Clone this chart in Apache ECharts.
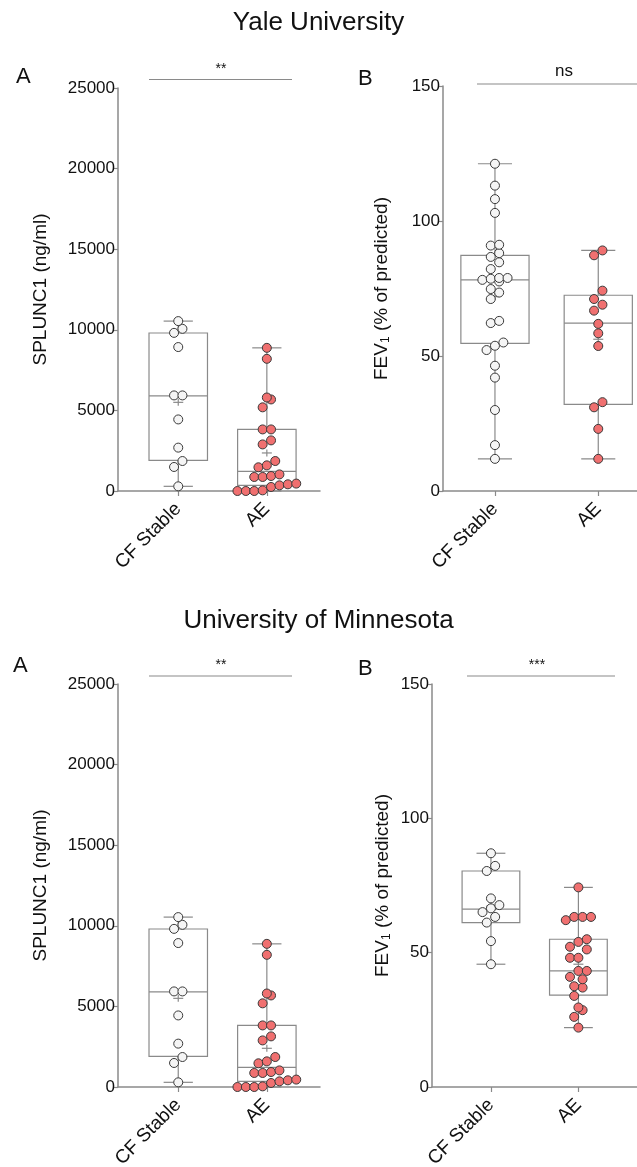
<!DOCTYPE html>
<html><head><meta charset="utf-8">
<script src="https://cdn.jsdelivr.net/npm/echarts@6/dist/echarts.min.js"></script>
<style>html,body{margin:0;padding:0;background:#fff}#c{width:637px;height:1167px}</style>
</head><body><div id="c"></div>
<script>
// ---- data ----
const categories = ['CF Stable', 'AE'];
const splunc1Ticks = [0, 5000, 10000, 15000, 20000, 25000];
const fev1Ticks = [0, 50, 100, 150];

const yaleSplunc1Stable = [10540, 10060, 9810, 8930, 5930, 5930, 4440, 2690, 1860, 1490, 290];
const yaleSplunc1AE = [8880, 8200, 5800, 5680, 5190, 3820, 3820, 3140, 2890, 1860, 1590, 1470, 1030, 930, 870, 870, 460, 415, 350, 250, 40, 0, 0, 0];
const yaleFev1Stable = [121.2, 113.1, 108.1, 103.0, 91.2, 90.9, 88.1, 86.7, 84.7, 82.2, 78.9, 78.9, 78.6, 78.2, 77.6, 74.8, 73.5, 71.1, 63.0, 62.2, 55.0, 53.8, 52.2, 46.4, 42.0, 30.0, 17.0, 11.9];
const yaleFev1AE = [89.1, 87.3, 74.2, 71.1, 69.0, 66.8, 61.9, 58.4, 53.7, 32.9, 31.0, 23.0, 11.9];
const umnSplunc1Stable = [10540, 10060, 9810, 8930, 5930, 5930, 4440, 2690, 1860, 1490, 290];
const umnSplunc1AE = [8880, 8200, 5800, 5680, 5190, 3820, 3820, 3140, 2890, 1860, 1590, 1470, 1030, 930, 870, 870, 460, 415, 350, 250, 40, 0, 0, 0];
const umnFev1Stable = [87.0, 82.3, 80.4, 70.2, 67.7, 66.5, 65.1, 63.3, 61.2, 54.3, 45.7];
const umnFev1AE = [74.3, 63.3, 63.3, 63.3, 62.1, 55.0, 54.0, 52.2, 51.2, 48.1, 48.1, 43.2, 43.2, 41.0, 40.1, 37.5, 37.0, 33.9, 29.6, 28.6, 26.1, 22.1];

// box statistics [min, Q1, median, Q3, max] and means
const yaleSplunc1Box = [[290, 1900, 5900, 9800, 10540], [0, 350, 1220, 3820, 8880]];
const yaleSplunc1Mean = [5500, 2360];
const yaleFev1Box = [[11.9, 54.7, 78.2, 87.3, 121.2], [11.9, 32.1, 62.2, 72.5, 89.1]];
const yaleFev1Mean = [72.0, 56.2];
const umnSplunc1Box = [[290, 1900, 5900, 9800, 10540], [0, 350, 1220, 3820, 8880]];
const umnSplunc1Mean = [5500, 2400];
const umnFev1Box = [[45.7, 61.2, 66.2, 80.4, 87.0], [22.1, 34.2, 43.2, 55.0, 74.3]];
const umnFev1Mean = [67.3, 45.7];

const significance = ['**', 'ns', '**', '***'];
const titles = ['Yale University', 'University of Minnesota'];
const panelLetters = ['A', 'B', 'A', 'B'];

// ---- layout / style ----
const FONT = '"Liberation Sans", Arial, Helvetica, sans-serif';
const AXIS_COLOR = '#8a8a8a';
const TEXT_COLOR = '#111';
const DOT = 9;   // dot symbol size
const D = 8.4;   // dot spacing in px

const panels = [
  {grid: {left: 118, top: 88, width: 202, height: 403}, xr: [0.32, 2.60], ticks: splunc1Ticks,
   name: 'SPLUNC1 (ng/ml)', nameGap: 68, groups: [yaleSplunc1Stable, yaleSplunc1AE], box: yaleSplunc1Box, mean: yaleSplunc1Mean},
  {grid: {left: 443, top: 86, width: 194, height: 405}, xr: [0.497, 2.375], ticks: fev1Ticks,
   name: 'FEV{sub|1} (% of predicted)', nameGap: 51, groups: [yaleFev1Stable, yaleFev1AE], box: yaleFev1Box, mean: yaleFev1Mean},
  {grid: {left: 118, top: 684, width: 202, height: 403}, xr: [0.32, 2.60], ticks: splunc1Ticks,
   name: 'SPLUNC1 (ng/ml)', nameGap: 68, groups: [umnSplunc1Stable, umnSplunc1AE], box: umnSplunc1Box, mean: umnSplunc1Mean},
  {grid: {left: 432, top: 684, width: 205, height: 403}, xr: [0.326, 2.67], ticks: fev1Ticks,
   name: 'FEV{sub|1} (% of predicted)', nameGap: 39, groups: [umnFev1Stable, umnFev1AE], box: umnFev1Box, mean: umnFev1Mean}
];

const chart = echarts.init(document.getElementById('c'), null, {renderer: 'canvas', width: 637, height: 1167});

const grids = [], xAxes = [], yAxes = [], series = [];
panels.forEach((p, i) => {
  grids.push(Object.assign({containLabel: false, outerBoundsMode: 'none'}, p.grid));
  xAxes.push({
    type: 'value', gridIndex: i, min: p.xr[0], max: p.xr[1],
    splitLine: {show: false},
    axisLine: {show: true, onZero: false, lineStyle: {color: AXIS_COLOR, width: 1.5}},
    axisTick: {show: true, customValues: [1, 2], length: 5, lineStyle: {color: AXIS_COLOR, width: 1.2}},
    axisLabel: {show: true, customValues: [1, 2], rotate: 45, margin: 15, fontSize: 19, color: TEXT_COLOR, fontFamily: FONT,
      formatter: v => categories[Math.round(v) - 1] || ''}
  });
  const tk = p.ticks;
  yAxes.push({
    type: 'value', gridIndex: i, min: tk[0], max: tk[tk.length - 1], interval: tk[1] - tk[0],
    name: p.name, nameLocation: 'middle', nameGap: p.nameGap,
    nameTextStyle: {fontSize: 19, color: TEXT_COLOR, fontFamily: FONT,
      rich: {sub: {fontSize: 12, color: TEXT_COLOR, fontFamily: FONT, verticalAlign: 'bottom', padding: [9, 0, 0, 0]}}},
    splitLine: {show: false},
    axisLine: {show: true, lineStyle: {color: AXIS_COLOR, width: 1.5}},
    axisTick: {show: true, length: 4, lineStyle: {color: AXIS_COLOR, width: 1.2}},
    axisLabel: {fontSize: 17, color: TEXT_COLOR, fontFamily: FONT, margin: 3, formatter: v => String(v)}
  });
  // box + whiskers
  series.push({
    type: 'custom', xAxisIndex: i, yAxisIndex: i, z: 2, silent: true,
    data: p.box.map((b, k) => [k + 1].concat(b).concat([p.mean[k]])),
    renderItem: (params, api) => {
      const c = api.value(0);
      const unit = api.size([1, 0])[0];
      const hw = unit * 0.33, cw = unit * 0.165;
      const P = k => api.coord([c, api.value(k)]);
      const pMin = P(1), pQ1 = P(2), pMed = P(3), pQ3 = P(4), pMax = P(5), pMean = P(6);
      const x = pMed[0];
      const st = {stroke: '#8a8a8a', lineWidth: 1.2, fill: null};
      const L = (x1, y1, x2, y2) => ({type: 'line', shape: {x1, y1, x2, y2}, style: st});
      return {type: 'group', children: [
        {type: 'rect', shape: {x: x - hw, y: pQ3[1], width: 2 * hw, height: pQ1[1] - pQ3[1]}, style: st},
        L(x, pQ3[1], x, pMax[1]), L(x, pQ1[1], x, pMin[1]),
        L(x - cw, pMax[1], x + cw, pMax[1]), L(x - cw, pMin[1], x + cw, pMin[1]),
        L(x - hw, pMed[1], x + hw, pMed[1]),
        L(x - 5, pMean[1], x + 5, pMean[1]), L(x, pMean[1] - 3.5, x, pMean[1] + 3.5)
      ]};
    }
  });
});

const titleComps = [
  {text: titles[0], left: 'center', top: 5, textStyle: {fontSize: 26, fontWeight: 'normal', color: TEXT_COLOR, fontFamily: FONT}},
  {text: titles[1], left: 'center', top: 603, textStyle: {fontSize: 26, fontWeight: 'normal', color: TEXT_COLOR, fontFamily: FONT}}
];
const letterPos = [[11, 61], [353, 63], [8, 650], [353, 653]];
panelLetters.forEach((t, i) => titleComps.push({text: t, left: letterPos[i][0], top: letterPos[i][1],
  textStyle: {fontSize: 22, fontWeight: 'normal', color: TEXT_COLOR, fontFamily: FONT}}));

// significance bars
const sigBars = [[149, 292, 79.5], [477, 637, 84], [149, 292, 676], [467, 615, 676]];
const sigText = [[221, 69, 14], [564, 71, 17], [221, 665, 14], [537, 665, 14]];
const graphic = [];
sigBars.forEach((b, i) => {
  graphic.push({type: 'line', shape: {x1: b[0], y1: b[2], x2: b[1], y2: b[2]}, style: {stroke: '#8a8a8a', lineWidth: 1.2}});
  graphic.push({type: 'text', x: sigText[i][0], y: sigText[i][1], style: {text: significance[i], fontSize: sigText[i][2],
    fontFamily: FONT, fill: TEXT_COLOR, align: 'center', verticalAlign: 'middle'}});
});

chart.setOption({
  animation: false, backgroundColor: '#fff',
  title: titleComps, grid: grids, xAxis: xAxes, yAxis: yAxes, series: series, graphic: graphic
});

// beeswarm layout computed via the chart's own scales
function swarm(values, cat, gi) {
  const pxPerUnit = chart.convertToPixel({gridIndex: gi}, [cat + 1, 0])[0] - chart.convertToPixel({gridIndex: gi}, [cat, 0])[0];
  const pts = values.map(v => ({v, py: chart.convertToPixel({gridIndex: gi}, [cat, v])[1]}));
  pts.sort((a, b) => b.py - a.py); // bottom first
  const rows = [];
  pts.forEach(p => {
    const r = rows[rows.length - 1];
    if (r && r.start - p.py < D) r.items.push(p); else rows.push({start: p.py, items: [p]});
  });
  const out = [];
  rows.forEach(r => {
    const n = r.items.length;
    r.items.forEach((p, k) => out.push([cat + ((k - (n - 1) / 2) * D) / pxPerUnit, p.v]));
  });
  return out;
}

const scatterSeries = [];
panels.forEach((p, i) => {
  p.groups.forEach((vals, k) => {
    scatterSeries.push({
      type: 'scatter', xAxisIndex: i, yAxisIndex: i, z: 5, symbol: 'circle', symbolSize: DOT,
      itemStyle: {color: k === 0 ? '#f5f5f5' : '#f07070', borderColor: '#3a3a3a', borderWidth: 1, opacity: 1},
      data: swarm(vals, k + 1, i)
    });
  });
});
chart.setOption({series: series.concat(scatterSeries)});
</script></body></html>
